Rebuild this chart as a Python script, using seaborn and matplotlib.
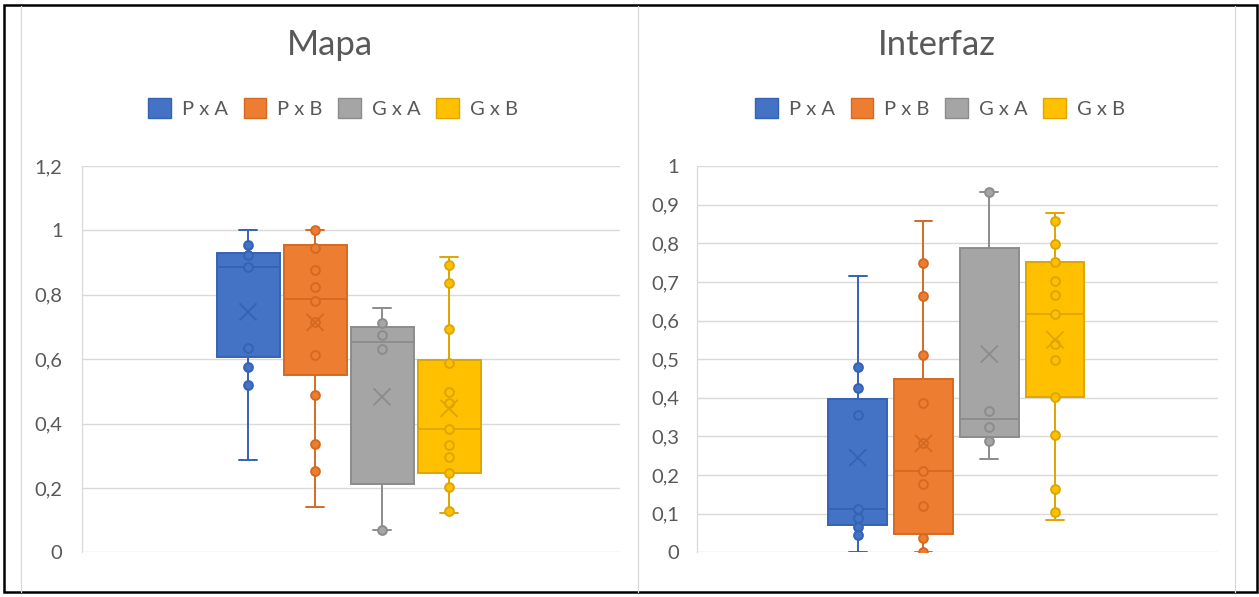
import numpy as np
import pandas as pd
import matplotlib
matplotlib.use("Agg")
import matplotlib.pyplot as plt
from matplotlib.patches import Patch, Rectangle
from matplotlib.lines import Line2D
from matplotlib.ticker import FuncFormatter, MultipleLocator
import seaborn as sns

# ---- data -------------------------------------------------------------
groups = ["P x A", "P x B", "G x A", "G x B"]
fill_colors = ["#4472C4", "#ED7D31", "#A5A5A5", "#FFC000"]
edge_colors = ["#3462B4", "#D46A22", "#8C8C8C", "#DDA600"]

# Mapa: box statistics per group
mapa_lo = [0.287, 0.142, 0.069, 0.121]
mapa_q1 = [0.606, 0.551, 0.211, 0.245]
mapa_med = [0.887, 0.788, 0.654, 0.383]
mapa_q3 = [0.929, 0.955, 0.700, 0.597]
mapa_hi = [1.000, 1.000, 0.758, 0.916]
mapa_mean = [0.747, 0.714, 0.483, 0.447]
# Mapa: individual observations
mapa_pa = [0.955, 0.925, 0.887, 0.635, 0.576, 0.520]
mapa_pb = [1.000, 0.945, 0.877, 0.825, 0.782, 0.714, 0.613, 0.488, 0.335, 0.251]
mapa_ga = [0.711, 0.675, 0.633, 0.069]
mapa_gb = [0.894, 0.835, 0.694, 0.587, 0.499, 0.463, 0.383, 0.333, 0.297,
           0.245, 0.202, 0.128]

# Interfaz: box statistics per group
intf_lo = [0.000, 0.000, 0.241, 0.084]
intf_q1 = [0.071, 0.047, 0.299, 0.401]
intf_med = [0.112, 0.211, 0.345, 0.616]
intf_q3 = [0.396, 0.448, 0.789, 0.752]
intf_hi = [0.715, 0.858, 0.933, 0.879]
intf_mean = [0.245, 0.282, 0.513, 0.550]
# Interfaz: individual observations
intf_pa = [0.479, 0.425, 0.355, 0.112, 0.088, 0.066, 0.045]
intf_pb = [0.748, 0.664, 0.511, 0.387, 0.282, 0.211, 0.176, 0.121, 0.038, 0.000]
intf_ga = [0.933, 0.367, 0.325, 0.288]
intf_gb = [0.858, 0.797, 0.752, 0.702, 0.666, 0.616, 0.538, 0.498, 0.401,
           0.304, 0.164, 0.105]

# ---- style ------------------------------------------------------------
sns.set_theme(style="white")
plt.rcParams["font.family"] = ["Lato", "DejaVu Sans"]
TXT = "#595959"
GRID = "#D9D9D9"

W, H = 1259, 597
fig = plt.figure(figsize=(W / 100, H / 100), dpi=100)


def px_x(x):
    return x / W


def px_y(y):
    return 1 - y / H


def comma_fmt(v, _pos):
    return f"{round(v, 2):g}".replace(".", ",")


def draw_panel(rect, title, title_x, legend_x, stats, points, ymax, ystep,
               xlim, box_w, cap_w, ylabel_pad):
    ax = fig.add_axes(rect)
    lo, q1, med, q3, hi, mean = stats
    bstats = [dict(whislo=lo[i], q1=q1[i], med=med[i], q3=q3[i],
                   whishi=hi[i], label=groups[i]) for i in range(len(groups))]
    pos = np.arange(len(groups))
    art = ax.bxp(bstats, positions=pos, widths=box_w, capwidths=cap_w,
                 patch_artist=True, showfliers=False, manage_ticks=False)
    for i in range(len(groups)):
        art["boxes"][i].set(facecolor=fill_colors[i], edgecolor=edge_colors[i],
                            linewidth=1.4, zorder=2)
        art["medians"][i].set(color=edge_colors[i], linewidth=1.3, zorder=2.5)
        for k in (2 * i, 2 * i + 1):
            art["whiskers"][k].set(color=edge_colors[i], linewidth=1.4, zorder=1.5)
            art["caps"][k].set(color=edge_colors[i], linewidth=1.4, zorder=1.5)

    # observations
    for i, vals in enumerate(points):
        df = pd.DataFrame({"grupo": np.full(len(vals), i), "valor": vals})
        sns.scatterplot(data=df, x="grupo", y="valor", ax=ax, s=40,
                        color=fill_colors[i], edgecolor=edge_colors[i],
                        linewidth=1.4, zorder=3, legend=False)
    # means
    ax.scatter(pos, mean, marker="x", s=150, c=edge_colors, linewidths=1.3,
               zorder=4)

    ax.set_xlim(*xlim)
    ax.set_ylim(0, ymax)
    ax.yaxis.set_major_locator(MultipleLocator(ystep))
    ax.yaxis.set_major_formatter(FuncFormatter(comma_fmt))
    ax.set_xticks([])
    ax.set_xlabel("")
    ax.set_ylabel("")
    ax.grid(axis="y", color=GRID, linewidth=1.0, zorder=0)
    ax.set_axisbelow(True)
    for s in ("top", "right", "bottom"):
        ax.spines[s].set_visible(False)
    ax.spines["left"].set_color(GRID)
    ax.spines["left"].set_linewidth(0.9)
    ax.tick_params(axis="y", length=0, pad=ylabel_pad, labelsize=14.5,
                   labelcolor=TXT)
    for lab in ax.get_yticklabels():
        lab.set_clip_on(False)

    fig.text(px_x(title_x), px_y(45), title, ha="center", va="center",
             fontsize=25, color=TXT)
    handles = [Patch(facecolor=fill_colors[i], edgecolor=edge_colors[i],
                     linewidth=1.0, label=groups[i]) for i in range(len(groups))]
    fig.legend(handles=handles, loc="center", ncol=4,
               bbox_to_anchor=(px_x(legend_x), px_y(108)), frameon=False,
               fontsize=14.5, labelcolor=TXT, handlelength=1.1,
               handleheight=1.1, handletextpad=0.55, columnspacing=0.8,
               borderaxespad=0, borderpad=0)
    return ax


ax_top = px_y(166)
ax_bot = px_y(552.3)
draw_panel([px_x(82), ax_bot, px_x(620) - px_x(82), ax_top - ax_bot],
           "Mapa", 330, 333,
           (mapa_lo, mapa_q1, mapa_med, mapa_q3, mapa_hi, mapa_mean),
           [mapa_pa, mapa_pb, mapa_ga, mapa_gb], 1.2, 0.2,
           (-2.478, 5.552), 0.94, 0.27, 14)
draw_panel([px_x(697), ax_bot, px_x(1218) - px_x(697), ax_top - ax_bot],
           "Interfaz", 937, 940,
           (intf_lo, intf_q1, intf_med, intf_q3, intf_hi, intf_mean),
           [intf_pa, intf_pb, intf_ga, intf_gb], 1.0, 0.1,
           (-2.442, 5.476), 0.89, 0.27, 13)

# chart area separators and outer border
for xg in (21, 638, 1235):
    fig.add_artist(Line2D([px_x(xg)] * 2, [px_y(6), px_y(592)], color=GRID,
                          linewidth=0.9, transform=fig.transFigure))
fig.add_artist(Rectangle((px_x(4), px_y(592)), px_x(1257) - px_x(4),
                         px_y(5) - px_y(592), fill=False, edgecolor="black",
                         linewidth=1.8, transform=fig.transFigure))

fig.savefig("out.png", dpi=100, facecolor="white")
